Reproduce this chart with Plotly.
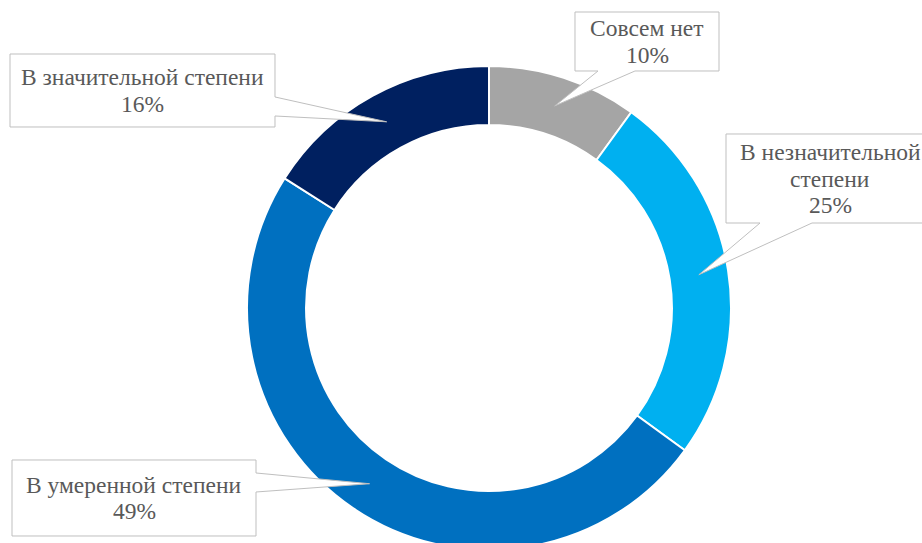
import math
import plotly.graph_objects as go

labels = ["Совсем нет", "В незначительной степени", "В умеренной степени", "В значительной степени"]
label_lines = [["Совсем нет", "10%"],
               ["В незначительной", "степени", "25%"],
               ["В умеренной степени", "49%"],
               ["В значительной степени", "16%"]]
values = [10, 25, 49, 16]
colors = ["#A5A5A5", "#00B0F0", "#0070C0", "#002060"]

W, H = 922, 543
CX, CY, R = 489, 308, 242
HOLE = 0.756
LINE = 26.5
FONT = dict(family="Liberation Serif, Times New Roman, serif", size=23.5, color="#595959")

# callout boxes in pixels: (x0, y0, x1, y1), wedge side, wedge base range
boxes = [
    ((575, 12, 719, 71), "bottom", (598, 635)),
    ((726, 134, 934, 223), "bottom", (760, 812)),
    ((12, 460, 256, 536), "right", (473, 492)),
    ((10, 54, 275, 127), "right", (97, 116)),
]

def px(x):
    return x / W

# pie domain must stay inside the paper, so the ring (which is cut at the bottom
# in the reference) is positioned through a taller paper that the page clips
PH = 552
def pyd(y):
    return 1 - y / PH

fig = go.Figure(go.Pie(
    labels=labels, values=values, hole=HOLE, sort=False, direction="clockwise",
    rotation=0, marker=dict(colors=colors, line=dict(color="white", width=2)),
    textinfo="none", showlegend=False, hoverinfo="label+percent",
    domain=dict(x=[px(CX - R), px(CX + R)], y=[pyd(CY + R), pyd(CY - R)]),
))

total = sum(values)
cum = 0
shapes = []
annotations = []
rmid = R * (1 + HOLE) / 2
for (box, side, base), v, lines in zip(boxes, values, label_lines):
    mid = (cum + v / 2) / total * 2 * math.pi
    cum += v
    tx = CX + rmid * math.sin(mid)
    ty = CY - rmid * math.cos(mid)
    x0, y0, x1, y1 = box
    b0, b1 = base
    if side == "right":
        pts = [(x0, y0), (x1, y0), (x1, b0), (tx, ty), (x1, b1), (x1, y1), (x0, y1)]
    else:
        pts = [(x0, y0), (x1, y0), (x1, y1), (b1, y1), (tx, ty), (b0, y1), (x0, y1)]
    path = "M " + " L ".join(f"{px(a):.5f},{pyd(b):.5f}" for a, b in pts) + " Z"
    shapes.append(dict(type="path", path=path, xref="paper", yref="paper",
                       fillcolor="white", line=dict(color="#BFBFBF", width=1), layer="above"))
    yc = (y0 + y1) / 2
    n = len(lines)
    for i, t in enumerate(lines):
        ly = yc + (i - (n - 1) / 2) * LINE
        annotations.append(dict(text=t, x=px((x0 + x1) / 2), y=pyd(ly),
                                xref="paper", yref="paper", xanchor="center", yanchor="middle",
                                showarrow=False, font=FONT))

fig.update_layout(width=W, height=PH, margin=dict(l=0, r=0, t=0, b=0),
                  paper_bgcolor="white", plot_bgcolor="white",
                  shapes=shapes, annotations=annotations)
fig.write_html(
    "out.html",
    config={"displayModeBar": False},
    post_script="document.documentElement.style.overflow='hidden';"
                "document.body.style.margin='0';document.body.style.overflow='hidden';",
)
